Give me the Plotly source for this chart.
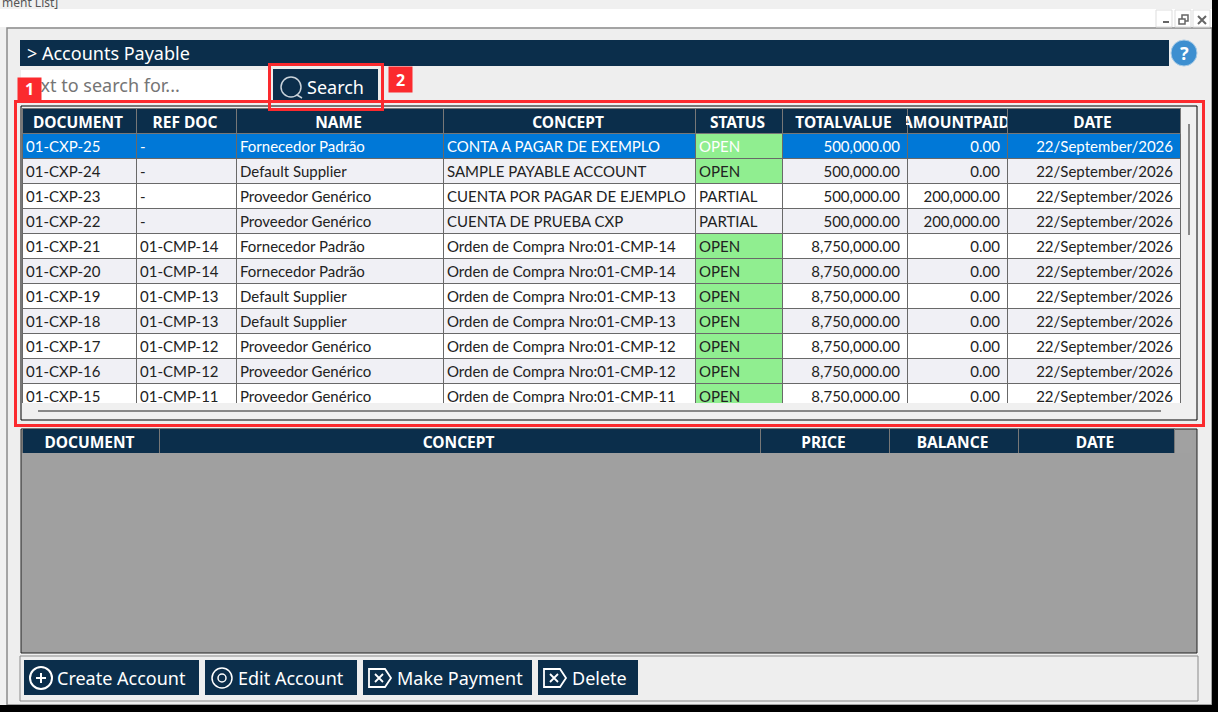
import plotly.graph_objects as go

W, H = 1218, 712
NAVY = '#0b2e4b'
RED = '#fb2a2e'
FONT = 'Lato'
HEAD_FONT = 'Noto Sans'

headers = ['DOCUMENT', 'REF DOC', 'NAME', 'CONCEPT', 'STATUS', 'TOTALVALUE', 'AMOUNTPAID', 'DATE']
col_edges = [22, 136, 236, 443, 695, 782, 907, 1007, 1180]
aligns = ['left', 'left', 'left', 'left', 'left', 'right', 'right', 'right']

documents = ['01-CXP-25', '01-CXP-24', '01-CXP-23', '01-CXP-22', '01-CXP-21', '01-CXP-20',
             '01-CXP-19', '01-CXP-18', '01-CXP-17', '01-CXP-16', '01-CXP-15']
ref_docs = ['-', '-', '-', '-', '01-CMP-14', '01-CMP-14', '01-CMP-13', '01-CMP-13',
            '01-CMP-12', '01-CMP-12', '01-CMP-11']
names = ['Fornecedor Padrão', 'Default Supplier', 'Proveedor Genérico', 'Proveedor Genérico',
         'Fornecedor Padrão', 'Fornecedor Padrão', 'Default Supplier', 'Default Supplier',
         'Proveedor Genérico', 'Proveedor Genérico', 'Proveedor Genérico']
concepts = ['CONTA A PAGAR DE EXEMPLO', 'SAMPLE PAYABLE ACCOUNT', 'CUENTA POR PAGAR DE EJEMPLO',
            'CUENTA DE PRUEBA CXP', 'Orden de Compra Nro:01-CMP-14', 'Orden de Compra Nro:01-CMP-14',
            'Orden de Compra Nro:01-CMP-13', 'Orden de Compra Nro:01-CMP-13',
            'Orden de Compra Nro:01-CMP-12', 'Orden de Compra Nro:01-CMP-12',
            'Orden de Compra Nro:01-CMP-11']
statuses = ['OPEN', 'OPEN', 'PARTIAL', 'PARTIAL', 'OPEN', 'OPEN', 'OPEN', 'OPEN', 'OPEN', 'OPEN', 'OPEN']
total_values = ['500,000.00', '500,000.00', '500,000.00', '500,000.00', '8,750,000.00', '8,750,000.00',
                '8,750,000.00', '8,750,000.00', '8,750,000.00', '8,750,000.00', '8,750,000.00']
amounts_paid = ['0.00', '0.00', '200,000.00', '200,000.00', '0.00', '0.00', '0.00', '0.00', '0.00', '0.00', '0.00']
dates = ['22/September/2026'] * 11

detail_headers = ['DOCUMENT', 'CONCEPT', 'PRICE', 'BALANCE', 'DATE']
detail_edges = [22, 159, 760, 889, 1018, 1174]

buttons = [('Create Account', 24, 199, 33), ('Edit Account', 205, 357, 33),
           ('Make Payment', 363, 532, 34), ('Delete', 538, 638, 34)]


def dom_x(a, b):
    return [a / W, b / W]


def dom_y(a, b):
    return [1 - b / H, 1 - a / H]


def rect(x0, y0, x1, y1, fill=None, line=None, lw=1, layer='below'):
    return dict(type='rect', xref='x', yref='y', x0=x0, y0=y0, x1=x1, y1=y1, layer=layer,
                fillcolor=fill or 'rgba(0,0,0,0)', line=dict(color=line or 'rgba(0,0,0,0)', width=lw if line else 0))


def note(x, y, text, size=14, color='white', anchor='left', bold=False, **kw):
    if bold:
        text = f'<b>{text}</b>'
    return dict(xref='x', yref='y', x=x, y=y, text=text, showarrow=False, xanchor=anchor, yanchor='middle',
                font=dict(family=HEAD_FONT, size=size, color=color), **kw)


def row_fill(i):
    if i == 0:
        return '#0078d7'
    return '#f0f0f5' if i % 2 else 'white'


# table wraps on plain spaces, keep the concept on one line
no_wrap_concepts = [c.replace(' ', '\u00a0') for c in concepts]

columns = [documents, ref_docs, names, no_wrap_concepts, statuses, total_values, amounts_paid, dates]
fills = [[row_fill(i) for i in range(len(documents))] for _ in columns]
fills[4] = ['#90ee90' if s == 'OPEN' else row_fill(i) for i, s in enumerate(statuses)]
text_colors = ['white' if i == 0 else '#222222' for i in range(len(documents))]

fig = go.Figure()

fig.add_trace(go.Table(
    domain=dict(x=dom_x(col_edges[0], col_edges[-1]), y=dom_y(108, 403)),
    columnwidth=[b - a for a, b in zip(col_edges, col_edges[1:])],
    header=dict(values=headers, height=25, align='center',
                fill_color=NAVY, line=dict(color='#777777', width=1),
                font=dict(family=HEAD_FONT, size=15.5, color='white', weight='bold')),
    cells=dict(values=columns, height=25, align=aligns, fill_color=fills,
               line=dict(color='#696969', width=1),
               font=dict(family=FONT, size=15, color=[text_colors] * len(columns))),
))

fig.add_trace(go.Table(
    domain=dict(x=dom_x(detail_edges[0], detail_edges[-1]), y=dom_y(428, 453)),
    columnwidth=[b - a for a, b in zip(detail_edges, detail_edges[1:])],
    header=dict(values=detail_headers, height=25, align='center',
                fill_color=NAVY, line=dict(color='#777777', width=1),
                font=dict(family=HEAD_FONT, size=15.5, color='white', weight='bold')),
    cells=dict(values=[[] for _ in detail_headers]),
))

shapes = [
    rect(0, 0, W, 9, '#f0f0f0'),
    rect(0, 9, W, 27, 'white'),
    rect(0, 27, W, H, '#f0f0f0'),
    rect(7, 28, 1212, 705, '#eeeeee', '#8a8a8a', 1.5),
    rect(1212, 0, W, H, 'black'),
    rect(0, 705, W, H, 'black'),
    rect(1156, 10, 1172, 27, 'white', '#dddddd'),
    rect(1175, 10, 1191, 27, 'white', '#dddddd'),
    rect(1193, 10, 1210, 27, 'white', '#dddddd'),
    rect(1163, 21, 1169, 23, '#666666'),
    rect(1179, 19, 1185, 24, None, '#666666', 1.5),
    dict(type='path', layer='below', xref='x', yref='y', path='M1182,19 L1182,15 L1188,15 L1188,21 L1185,21',
         line=dict(color='#666666', width=1.5)),
    dict(type='path', layer='below', xref='x', yref='y', path='M1198,16 L1206,24 M1206,16 L1198,24',
         line=dict(color='#666666', width=2)),
    rect(20, 40, 1169, 66, NAVY),
    rect(21, 70, 270, 100, 'white'),
    rect(273, 69, 378, 102, NAVY),
    rect(21, 106, 1197, 420, '#f0f0f0', 'black'),
    rect(1188, 124, 1190, 235, '#888888'),
    rect(38, 410, 1161, 412, '#888888'),
    rect(21, 429, 1197, 653, '#a0a0a0', '#222222'),
    rect(20, 656, 1198, 701, '#eeeeee', '#8a8a8a'),
    rect(15.5, 101.5, 1203.5, 425.5, None, RED, 3, 'above'),
    rect(269.5, 64.5, 382.5, 109.5, None, RED, 3, 'above'),
    dict(type='circle', layer='below', xref='x', yref='y', x0=1171, y0=40, x1=1197, y1=66,
         fillcolor='#3d8fd0', line=dict(color='#a8cbe6', width=1)),
    dict(type='circle', layer='below', xref='x', yref='y', x0=281, y0=77, x1=301, y1=97,
         line=dict(color='#c8d2da', width=1.5)),
    dict(type='path', layer='below', xref='x', yref='y', path='M297,95 L302,98',
         line=dict(color='#c8d2da', width=1.5)),
]

annotations = [
    note(0, 2, 'ment List]', 12, '#555555'),
    note(25, 53, '&gt; Accounts Payable', 18),
    note(1184, 53, '?', 18, 'white', 'center', True),
    note(20, 85, 'Text to search for...', 18, '#757575'),
    note(305, 87, 'Search', 18),
    note(17, 89, '1', 16, 'white', 'left', True, width=23, height=22, bgcolor=RED, borderpad=0, align='center'),
    note(388, 79, '2', 16, 'white', 'left', True, width=23, height=25, bgcolor=RED, borderpad=0, align='center'),
]

for label, x0, x1, gap in buttons:
    shapes.append(rect(x0, 660, x1, 695, NAVY))
    annotations.append(note(x0 + gap - 2, 678, label, 18))

# button icons
shapes += [
    dict(type='circle', layer='below', xref='x', yref='y', x0=30, y0=667, x1=52, y1=689, line=dict(color='white', width=2)),
    dict(type='path', layer='below', xref='x', yref='y', path='M36,678 L46,678 M41,673 L41,683', line=dict(color='white', width=2)),
    dict(type='circle', layer='below', xref='x', yref='y', x0=212, y0=668, x1=232, y1=688, line=dict(color='white', width=1.5)),
    dict(type='circle', layer='below', xref='x', yref='y', x0=218, y0=674, x1=226, y1=682, line=dict(color='white', width=1.5)),
]
for cx in [380, 555]:
    shapes.append(dict(type='path', layer='below', xref='x', yref='y',
                       path=f'M{cx-11},669 L{cx+5},669 L{cx+11},678 L{cx+5},687 L{cx-11},687 Z '
                            f'M{cx-5},674 L{cx+3},682 M{cx+3},674 L{cx-5},682',
                       line=dict(color='white', width=1.8)))

fig.update_layout(
    width=W, height=H, margin=dict(l=0, r=0, t=0, b=0), showlegend=False,
    paper_bgcolor='white', plot_bgcolor='rgba(0,0,0,0)',
    xaxis=dict(range=[0, W], visible=False, domain=[0, 1]),
    yaxis=dict(range=[H, 0], visible=False, domain=[0, 1]),
    shapes=shapes, annotations=annotations,
)

# table cell padding is fixed at 8px, pull the text closer to the cell edge
page_js = """
document.body.style.margin='0';document.body.style.overflow='hidden';
function nudge(){
  document.querySelectorAll('.cell-text').forEach(function(t){
    var a=getComputedStyle(t).textAnchor;
    t.style.translate=(a==='start')?'-4px 0':(a==='end')?'1px 0':'-1px 0';
  });
}
nudge();setTimeout(nudge,50);setTimeout(nudge,300);
"""
fig.write_html("out.html", config=dict(displayModeBar=False), post_script=page_js)
